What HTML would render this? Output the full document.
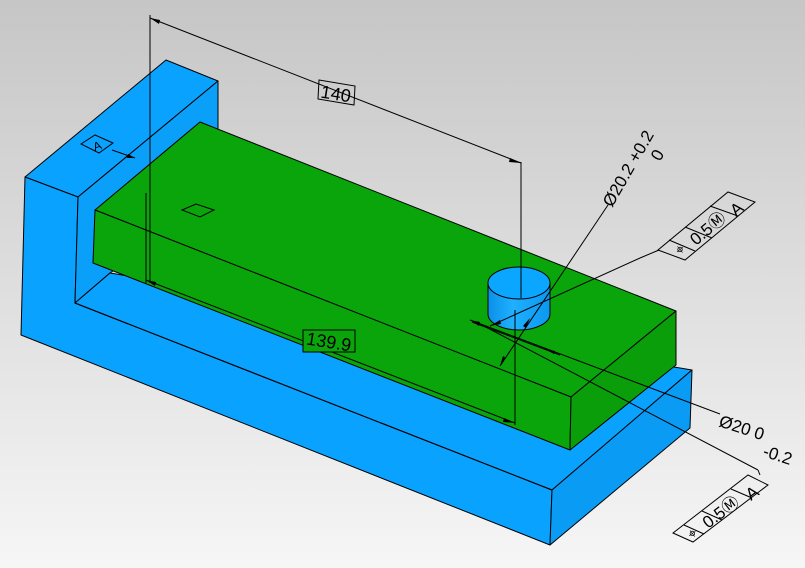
<!DOCTYPE html>
<html><head><meta charset="utf-8"><style>
html,body{margin:0;padding:0;width:805px;height:568px;overflow:hidden}
svg{display:block}
text{font-family:"Liberation Sans",sans-serif;fill:#000}
</style></head><body>
<svg width="805" height="568" viewBox="0 0 805 568" xmlns="http://www.w3.org/2000/svg">
<defs>
<linearGradient id="bg" x1="0" y1="0" x2="0" y2="1">
<stop offset="0" stop-color="#c6c6c6"/><stop offset="1" stop-color="#f6f6f6"/>
</linearGradient>
<linearGradient id="cyl" x1="0" y1="0" x2="1" y2="0">
<stop offset="0" stop-color="#0a90e8"/><stop offset="0.4" stop-color="#20b0ff"/><stop offset="1" stop-color="#0a98f0"/>
</linearGradient>
</defs>
<rect width="805" height="568" fill="url(#bg)"/>
<g stroke="#000" stroke-width="1" stroke-linejoin="round">
<polygon points="166,60 218,81 78,197 25,177" fill="#0aa2ff"/>
<polygon points="25,177 78,197 75,303 552,490 550,545 21,335" fill="#0aa2ff"/>
<polygon points="78,197 218,81 218,200 110,273 75,303" fill="#0a9ff8"/>
<polygon points="75,303 110,273 692,370 552,490" fill="#0aa2ff"/>
<polygon points="552,490 692,370 690,428 550,545" fill="#0a9cf5"/>
<line x1="75" y1="303" x2="552" y2="490"/>
<polygon points="200,122 676,311 571,397 95,210" fill="#0aa50a"/>
<polygon points="95,210 571,397 570,450 93,263" fill="#0aa50a"/>
<polygon points="571,397 676,311 676,365 570,450" fill="#0a9e0a"/>
<path d="M488,283 L488,314 A31,16 0 0 0 550,314 L550,283 Z" fill="url(#cyl)"/>
<ellipse cx="519" cy="283" rx="31" ry="16" fill="#0aa6ff"/>
</g>
<g stroke="#000" stroke-width="1" fill="none">
<line x1="150" y1="15" x2="150" y2="283"/>
<line x1="521" y1="162" x2="521" y2="298"/>
<line x1="150" y1="18" x2="521" y2="163"/>
<line x1="146" y1="193" x2="146" y2="283"/>
<line x1="515" y1="310" x2="515" y2="425"/>
<line x1="146" y1="280" x2="515" y2="423"/>
<line x1="112" y1="150" x2="135" y2="158"/>
<line x1="608" y1="205" x2="500" y2="366"/>
<line x1="659" y1="250" x2="640" y2="258"/>
<line x1="640" y1="258" x2="490" y2="326"/>
<line x1="720" y1="414" x2="470" y2="320"/>
<line x1="758" y1="470" x2="482" y2="325"/>
<line x1="760" y1="475" x2="758" y2="470"/>
<line x1="472" y1="322" x2="560" y2="355"/>
<polygon points="658,250 685,260 755,202 728,192"/>
<line x1="669" y1="240" x2="695" y2="251"/>
<line x1="685" y1="227" x2="712" y2="238"/>
<line x1="710" y1="206" x2="738" y2="216"/>
<polygon points="673,533 693,542 768,485 748,475"/>
<line x1="684" y1="525" x2="704" y2="534"/>
<line x1="702" y1="511" x2="722" y2="520"/>
<line x1="731" y1="489" x2="752" y2="498"/>
<polygon points="319,80 355,86 354,105 318,99"/>
<rect x="303" y="330" width="52" height="22" fill="#0aa50a"/>
<polygon points="81,144 95,135 113,143 99,153"/>
<polygon points="182,210 196,204 214,210 200,217"/>
</g>
<g fill="#000">
<polygon points="150,18 160,20 159,24"/>
<polygon points="521,163 510,158 509,162"/>
<polygon points="146,280 156,282 155,286"/>
<polygon points="515,423 504,418 503,422"/>
<polygon points="135,158 128,154 127,158"/>
<polygon points="530,318 526,328 523,326"/>
<polygon points="500,366 503,356 506,358"/>
<polygon points="490,326 500,320 501,324"/>
<polygon points="470,320 480,322 479,326"/>
<polygon points="545,349 555,351 554,354"/>
</g>
<text x="336" y="100" font-size="18" text-anchor="middle" transform="rotate(9 336 93)">140</text>
<text x="329" y="348" font-size="18" text-anchor="middle" transform="rotate(9 329 341)">139.9</text>
<text x="97" y="150" font-size="12" text-anchor="middle" transform="rotate(-20 97 145)">A</text>
<text x="612" y="208" font-size="17" transform="rotate(-60 612 208)">Ø20.2 +0.2</text>
<text x="660" y="162" font-size="17" transform="rotate(-60 660 162)">0</text>
<text x="718" y="426" font-size="17" transform="rotate(18 718 426)">Ø20  0</text>
<text x="762" y="456" font-size="17" transform="rotate(18 762 456)">-0.2</text>
<text x="680" y="256" font-size="15" transform="rotate(-40 680 256)">⌖</text>
<text x="696" y="246" font-size="17" transform="rotate(-40 696 246)">0.5Ⓜ</text>
<text x="736" y="217" font-size="17" transform="rotate(-40 736 217)">A</text>
<text x="692" y="540" font-size="15" transform="rotate(-37 692 540)">⌖</text>
<text x="708" y="529" font-size="17" transform="rotate(-37 708 529)">0.5Ⓜ</text>
<text x="751" y="501" font-size="17" transform="rotate(-37 751 501)">A</text>
</svg>
</body></html>
